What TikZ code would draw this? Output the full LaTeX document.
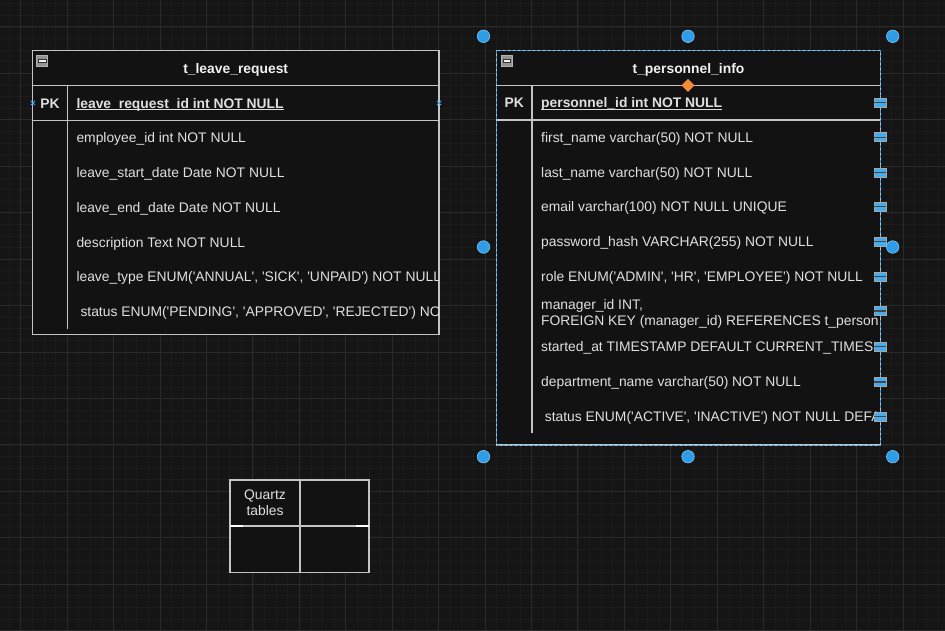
\documentclass[tikz,border=0pt]{standalone}
\usepackage{fontspec}
\newfontfamily\af{Liberation Sans}
\definecolor{bg}{HTML}{151515}
\definecolor{gmin}{HTML}{1C1C1C}
\definecolor{gmaj}{HTML}{2A2A2A}
\definecolor{tfill}{HTML}{121212}
\definecolor{strk}{HTML}{C4C4C4}
\definecolor{txt}{HTML}{E0E0E0}
\definecolor{ttlc}{HTML}{F2F2F2}
\definecolor{hblue}{HTML}{2E9CE6}
\definecolor{hbord}{HTML}{7FC4F2}
\definecolor{rblue}{HTML}{45ACF0}
\definecolor{orng}{HTML}{F28C38}
\newcommand{\q}{\textquotesingle}
\newcommand{\fs}{\fontsize{13.86}{16}\selectfont}
\tikzset{
  fld/.style={anchor=base west, inner sep=0, text=txt, font=\af\fs},
  fldb/.style={fld, font=\af\bfseries\fs},
  ttl/.style={anchor=base, inner sep=0, text=ttlc, font=\af\bfseries\fs},
  pkl/.style={anchor=base, inner sep=0, text=txt, font=\af\bfseries\fs},
  tline/.style={draw=strk, line width=1.1},
  handle/.style={circle, fill=hblue, draw=hbord, line width=0.6, minimum size=12.5, inner sep=0},
  collapse/.pic={
    \draw[draw=gray!60!white, fill=gray!85, line width=0.9] (-5.5,-5.5) rectangle (5.5,5.5);
    \draw[draw=gray!40!black, fill=white!90!gray, line width=0.6] (-3.8,-1.4) rectangle (3.8,1.4);
  },
  rowhandle/.pic={
    \draw[fill=rblue, draw=gray!70, line width=0.8] (-6,-4.5) rectangle (6,4.5);
    \draw[gray!55!black, line width=1.4] (-6,0) -- (6,0);
    \draw[gray!70, line width=1] (0,-6.5) -- (0,-4.5) (0,4.5) -- (0,6.5);
  },
  xmark/.pic={
    \draw[rblue, line width=0.9] (-2,-2) -- (2,2) (-2,2) -- (2,-2);
  }
}
\begin{document}
\begin{tikzpicture}[x=1pt,y=-1pt]
\useasboundingbox (0,0) rectangle (945,631);
\fill[bg] (0,0) rectangle (945,631);
% grid
\begin{scope}
\clip (0,0) rectangle (945,631);
\foreach \i in {0,...,81} {\draw[gmin, line width=0.8] ({9.09+11.61*\i},0) -- ++(0,631);}
\foreach \i in {0,...,53} {\draw[gmin, line width=0.8] (0,{3.78+11.61*\i}) -- ++(945,0);}
\foreach \k in {0,...,19} {\draw[gmaj, line width=1] ({20.7+46.44*\k},0) -- ++(0,631);}
\foreach \k in {0,...,13} {\draw[gmaj, line width=1] (0,{27+46.44*\k}) -- ++(945,0);}
\end{scope}

% ================= t_leave_request =================
\fill[tfill] (32.5,50.7) rectangle (439,334.3);
\draw[tline] (32.5,85.7) -- (439,85.7);
\draw[tline] (32.5,120.4) -- (439,120.4);
\draw[tline] (67.3,85.7) -- (67.3,328.6);
\draw[tline] (32.5,50.7) rectangle (439,334.3);
\pic at (42.2,60.5) {collapse};
\node[ttl] (lrT) at (235.7,73.5) {t\_leave\_request};
\node[pkl] (lrPK) at (49.9,108.3) {PK};
\begin{scope}
\clip (32.5,50.7) rectangle (438.4,334.3);
\node[fldb] (lrPKf) at (76.3,108.3) {leave\_request\_id int NOT NULL};
\node[fld] (lr1) at (76.3,143) {employee\_id int NOT NULL};
\node[fld] (lr2) at (76.3,177.7) {leave\_start\_date Date NOT NULL};
\node[fld] (lr3) at (76.3,212.4) {leave\_end\_date Date NOT NULL};
\node[fld] (lr4) at (76.3,247.1) {description Text NOT NULL};
\node[fld] (lr5) at (76.3,281.8) {leave\_type ENUM(\q ANNUAL\q, \q SICK\q, \q UNPAID\q) NOT NULL};
\node[fld] (lr6) at (80.3,316.5) {status ENUM(\q PENDING\q, \q APPROVED\q, \q REJECTED\q) NO};
\end{scope}
\draw[txt, line width=0.9] ([yshift=-1.6pt]lrPKf.base west) -- ([yshift=-1.6pt]lrPKf.base east);
\pic at (33,103) {xmark};
\pic at (439,103) {xmark};

% ================= t_personnel_info =================
\fill[tfill] (496.7,50.7) rectangle (880.3,445);
\draw[tline] (496.7,85.3) -- (880.3,85.3);
\draw[tline] (496.7,120) -- (880.3,120);
\draw[tline] (532,85.3) -- (532,433);
\draw[tline] (496.7,50.7) rectangle (880.3,445);
\draw[hblue, line width=1, dash pattern=on 3pt off 2pt] (496.7,50.7) rectangle (880.3,445);
\pic at (506.6,60.5) {collapse};
\node[ttl] (piT) at (688.5,73.5) {t\_personnel\_info};
\node[pkl] (piPK) at (514.3,107.5) {PK};
\begin{scope}
\clip (496.7,50.7) rectangle (879.8,445);
\node[fldb] (piPKf) at (541,107.5) {personnel\_id int NOT NULL};
\node[fld] (pi1) at (541,142.7) {first\_name varchar(50) NOT NULL};
\node[fld] (pi2) at (541,177.3) {last\_name varchar(50) NOT NULL};
\node[fld] (pi3) at (541,212) {email varchar(100) NOT NULL UNIQUE};
\node[fld] (pi4) at (541,247) {password\_hash VARCHAR(255) NOT NULL};
\node[fld] (pi5) at (541,281.7) {role ENUM(\q ADMIN\q, \q HR\q, \q EMPLOYEE\q) NOT NULL};
\node[fld] (pi6a) at (541,309) {manager\_id INT,};
\node[fld] (pi6b) at (541,325) {FOREIGN KEY (manager\_id) REFERENCES t\_person};
\node[fld] (pi7) at (541,351.7) {started\_at TIMESTAMP DEFAULT CURRENT\_TIMES};
\node[fld] (pi8) at (541,386.3) {department\_name varchar(50) NOT NULL};
\node[fld] (pi9) at (544.7,421) {status ENUM(\q ACTIVE\q, \q INACTIVE\q) NOT NULL DEFA};
\end{scope}
\draw[txt, line width=0.9] ([yshift=-1.6pt]piPKf.base west) -- ([yshift=-1.6pt]piPKf.base east);
% row handles
\foreach \yy in {102.7,137.3,172.7,206.7,241.7,276.7,311,346.7,382,416.7} {\pic at (880.3,\yy) {rowhandle};}
% header size handle
\fill[orng] (688,78.8) -- (694.5,85.3) -- (688,91.8) -- (681.5,85.3) -- cycle;
% selection handles
\node[handle] (h1) at (483.5,36.3) {};
\node[handle] (h2) at (688,36.3) {};
\node[handle] (h3) at (892.7,36.3) {};
\node[handle] (h4) at (483.5,247) {};
\node[handle] (h5) at (892.7,247) {};
\node[handle] (h6) at (483.5,456.7) {};
\node[handle] (h7) at (688,456.7) {};
\node[handle] (h8) at (892.7,456.7) {};

% ================= Quartz tables =================
\fill[tfill] (230,480) rectangle (369,572.7);
\draw[tline] (230,526) -- (369,526);
\draw[tline] (300,480) -- (300,572.7);
\draw[tline] (230,480) rectangle (369,572.7);
\draw[white, line width=1.2] (230,526) -- (243,526) (356,526) -- (369,526);
\node[inner sep=0, align=center, text=txt, font=\af\fs] (qt) at (265,503) {Quartz\\tables};
\end{tikzpicture}
\end{document}
